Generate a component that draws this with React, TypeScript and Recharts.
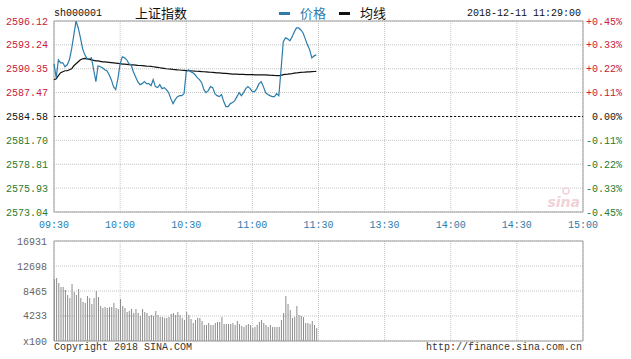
import { LineChart, Line, XAxis, YAxis, CartesianGrid, ReferenceLine, ReferenceArea, ComposedChart, Bar } from 'recharts';

// minute index 0..240 (09:30-11:30, 13:00-15:00)
const timeTicks = [0, 30, 60, 90, 120, 150, 180, 210, 240];
const timeLabels = ['09:30', '10:00', '10:30', '11:00', '11:30', '13:30', '14:00', '14:30', '15:00'];

const priceTicks = [2573.04, 2575.93, 2578.81, 2581.7, 2584.58, 2587.47, 2590.35, 2593.24, 2596.12];
const pctLabels = ['-0.45%', '-0.33%', '-0.22%', '-0.11%', '0.00%', '+0.11%', '+0.22%', '+0.33%', '+0.45%'];
const prevClose = 2584.58;

const volTicks = [0, 4233, 8465, 12698, 16931];
const volLabels = ['x100', '4233', '8465', '12698', '16931'];

const price = [
  2590.95, 2589.27, 2591.43, 2591.07, 2591.07, 2590.59, 2590.83, 2591.43, 2592.75, 2594.44,
  2596.12, 2595.28, 2594.08, 2592.75, 2592.03, 2591.55, 2591.55, 2591.67, 2590.23, 2588.79,
  2590.71, 2590.59, 2590.47, 2590.23, 2590.11, 2589.63, 2589.03, 2588.19, 2587.83, 2589.15,
  2590.95, 2591.79, 2591.67, 2591.43, 2590.95, 2590.83, 2589.99, 2589.39, 2588.79, 2588.43,
  2588.55, 2588.79, 2588.55, 2588.55, 2588.31, 2589.03, 2588.19, 2588.07, 2588.43, 2587.95,
  2588.07, 2587.83, 2587.47, 2586.74, 2586.14, 2586.62, 2586.98, 2587.1, 2587.1, 2587.35,
  2589.99, 2590.23, 2589.99, 2589.87, 2589.63, 2589.27, 2589.03, 2588.67, 2587.83, 2587.47,
  2587.71, 2588.19, 2588.07, 2587.35, 2587.1, 2586.98, 2587.23, 2586.38, 2585.78, 2585.78,
  2586.14, 2586.26, 2586.5, 2586.98, 2587.47, 2587.1, 2587.47, 2587.95, 2588.19, 2587.95,
  2587.59, 2587.59, 2587.95, 2588.55, 2588.79, 2588.19, 2587.47, 2587.23, 2587.1, 2586.98,
  2586.98, 2587.35, 2587.1, 2590.23, 2593.6, 2594.08, 2593.96, 2593.72, 2594.2, 2594.8,
  2595.28, 2595.28, 2595.04, 2594.68, 2593.96, 2593.24, 2592.63, 2591.67, 2591.91, 2592.03,
];

const avgPrice = [
  2589.03, 2589.15, 2589.51, 2589.87, 2589.99, 2590.11, 2590.11, 2590.23, 2590.35, 2590.71,
  2590.95, 2591.19, 2591.43, 2591.55, 2591.61, 2591.55, 2591.49, 2591.43, 2591.37, 2591.31,
  2591.31, 2591.25, 2591.19, 2591.17, 2591.14, 2591.11, 2591.08, 2591.05, 2591.02, 2590.99,
  2590.96, 2590.92, 2590.9, 2590.88, 2590.85, 2590.83, 2590.81, 2590.79, 2590.76, 2590.74,
  2590.72, 2590.7, 2590.67, 2590.65, 2590.63, 2590.59, 2590.55, 2590.51, 2590.47, 2590.43,
  2590.39, 2590.35, 2590.32, 2590.3, 2590.27, 2590.25, 2590.22, 2590.2, 2590.17, 2590.15,
  2590.13, 2590.12, 2590.1, 2590.08, 2590.06, 2590.05, 2590.03, 2590.01, 2589.99, 2589.97,
  2589.95, 2589.93, 2589.91, 2589.89, 2589.86, 2589.84, 2589.82, 2589.8, 2589.78, 2589.76,
  2589.74, 2589.71, 2589.7, 2589.69, 2589.68, 2589.67, 2589.66, 2589.65, 2589.64, 2589.63,
  2589.63, 2589.62, 2589.62, 2589.61, 2589.61, 2589.6, 2589.6, 2589.59, 2589.57, 2589.56,
  2589.54, 2589.53, 2589.51, 2589.55, 2589.63, 2589.67, 2589.7, 2589.74, 2589.77, 2589.81,
  2589.84, 2589.88, 2589.91, 2589.93, 2589.95, 2589.97, 2589.98, 2590.0, 2590.02, 2590.03,
];

const volume = [
  10497, 10667, 9820, 9143, 9143, 8635, 7788, 7280, 9651, 8296,
  7788, 8804, 7280, 6603, 6434, 7619, 7280, 6264, 7280, 8466,
  7450, 5926, 5587, 5757, 5587, 5757, 5757, 6434, 5587, 5418,
  7111, 5926, 5587, 4910, 5079, 5418, 4741, 5418, 4741, 4233,
  5418, 4910, 4741, 4233, 4402, 4233, 5079, 4402, 4063, 4063,
  3894, 3894, 4063, 4571, 4741, 4402, 4910, 4402, 3894, 3556,
  4910, 4402, 3725, 3048, 3556, 3894, 3894, 3386, 2709, 2709,
  3048, 2709, 2709, 3048, 3217, 3217, 4063, 2878, 2878, 2878,
  2878, 3048, 2709, 3386, 2878, 2540, 2370, 2709, 2878, 2709,
  2201, 2370, 2709, 3217, 3556, 3048, 2709, 2370, 2709, 2370,
  2370, 2370, 2370, 3556, 4741, 7619, 6264, 5249, 3894, 4063,
  5926, 4402, 4233, 4063, 3048, 3048, 2878, 3386, 2709, 2201,
];

const priceData = price.map((p, i) => ({ t: i, price: p, avg: avgPrice[i] }));
const volData = volume.map((v, i) => ({ t: i, vol: v }));

const MONO = '"Liberation Mono", "DejaVu Sans Mono", monospace';
const CJK = '"Noto Sans CJK SC", sans-serif';
const GRID = '#c4c4c4';
const BORDER = '#a0a0a0';
const BLUE = '#2b7cab';
const RED = '#c8203c';
const GREEN = '#2b7a2b';

function LeftPriceTick(props: any) {
  const { y, index } = props;
  const color = index < 4 ? GREEN : index === 4 ? '#111' : RED;
  return (
    <text x={48} y={y} dy="0.35em" textAnchor="end" fontFamily={MONO} fontSize={10} fill={color}>
      {priceTicks[index].toFixed(2)}
    </text>
  );
}

function RightPctTick(props: any) {
  const { y, index } = props;
  const color = index < 4 ? GREEN : index === 4 ? '#111' : RED;
  return (
    <text x={622} y={y} dy="0.35em" textAnchor="end" fontFamily={MONO} fontSize={10} fill={color}>
      {pctLabels[index]}
    </text>
  );
}

function TimeTick(props: any) {
  const { x, index } = props;
  return (
    <text x={x} y={224} dy="0.35em" textAnchor="middle" fontFamily={MONO} fontSize={10} fill={BLUE}>
      {timeLabels[index]}
    </text>
  );
}

function VolTick(props: any) {
  const { y, index } = props;
  return (
    <text x={47} y={y} dy="0.35em" textAnchor="end" fontFamily={MONO} fontSize={10} fill="#666">
      {volLabels[index]}
    </text>
  );
}

const abs = (left: number, top: number): React.CSSProperties => ({
  position: 'absolute',
  left,
  top,
  whiteSpace: 'nowrap',
});

export default function App() {
  return (
    <div style={{ position: 'absolute', left: 0, top: 0, width: 631, height: 359, background: '#fff', overflow: 'hidden' }}>
      {/* header */}
      <div style={{ ...abs(54, 8), fontFamily: MONO, fontSize: 10, lineHeight: '12px', color: '#111' }}>sh000001</div>
      <div style={{ ...abs(135, 5), fontFamily: CJK, fontSize: 13, lineHeight: '16px', color: '#111' }}>上证指数</div>
      <div style={{ ...abs(279, 12), width: 11, height: 3, background: BLUE }} />
      <div style={{ ...abs(300, 5), fontFamily: CJK, fontSize: 13, lineHeight: '16px', color: BLUE }}>价格</div>
      <div style={{ ...abs(339, 12), width: 11, height: 3, background: '#111' }} />
      <div style={{ ...abs(360, 5), fontFamily: CJK, fontSize: 13, lineHeight: '16px', color: '#111' }}>均线</div>
      <div style={{ ...abs(467, 8), fontFamily: MONO, fontSize: 10, lineHeight: '12px', color: '#111' }}>2018-12-11 11:29:00</div>

      {/* price chart */}
      <div style={abs(0, 0)}>
        <LineChart width={631} height={235} data={priceData} margin={{ top: 21, right: 0, bottom: 0, left: 0 }}>
          <CartesianGrid stroke={GRID} strokeDasharray="1 1" />
          <XAxis
            dataKey="t"
            type="number"
            domain={[0, 240]}
            ticks={timeTicks}
            height={23}
            tickLine={false}
            axisLine={false}
            tick={<TimeTick />}
            interval={0}
          />
          <YAxis
            domain={[priceTicks[0], priceTicks[8]]}
            ticks={priceTicks}
            width={54}
            tickLine={false}
            axisLine={false}
            tick={<LeftPriceTick />}
            interval={0}
            allowDataOverflow
          />
          <YAxis
            yAxisId="r"
            orientation="right"
            domain={[priceTicks[0], priceTicks[8]]}
            ticks={priceTicks}
            width={48}
            tickLine={false}
            axisLine={false}
            tick={<RightPctTick />}
            interval={0}
            allowDataOverflow
          />
          <ReferenceLine y={prevClose} stroke="#111" strokeDasharray="2 2" />
          <ReferenceArea x1={0} x2={240} y1={priceTicks[0]} y2={priceTicks[8]} fill="none" stroke={BORDER} strokeWidth={1} />
          <circle cx={566} cy={191} r={3} fill="none" stroke="#f1d3d8" strokeWidth={1.5} />
          <text x={580} y={207} textAnchor="end" fontFamily="Verdana, 'DejaVu Sans', sans-serif" fontStyle="italic" fontWeight="bold" fontSize={14} fill="#f0d2d7">
            sina
          </text>
          <Line type="linear" dataKey="avg" stroke="#111" strokeWidth={1.2} dot={false} isAnimationActive={false} />
          <Line type="linear" dataKey="price" stroke={BLUE} strokeWidth={1.2} dot={false} isAnimationActive={false} />
        </LineChart>
      </div>

      {/* volume chart */}
      <div style={abs(0, 230)}>
        <ComposedChart width={631} height={125} data={volData} margin={{ top: 11, right: 48, bottom: 14, left: 0 }}>
          <CartesianGrid stroke={GRID} strokeDasharray="1 1" />
          <XAxis dataKey="t" type="number" domain={[0, 240]} ticks={timeTicks} hide />
          <YAxis
            domain={[0, 16931]}
            ticks={volTicks}
            width={54}
            tickLine={false}
            axisLine={false}
            tick={<VolTick />}
            interval={0}
          />
          <ReferenceArea x1={0} x2={240} y1={0} y2={16931} fill="none" stroke={BORDER} strokeWidth={1} />
          <Bar dataKey="vol" fill="#8c8c8c" barSize={1} isAnimationActive={false} />
        </ComposedChart>
      </div>

      {/* footer */}
      <div style={{ ...abs(54, 342), fontFamily: MONO, fontSize: 10, lineHeight: '12px', color: '#333' }}>Copyright 2018 SINA.COM</div>
      <div style={{ ...abs(425, 342), width: 157, textAlign: 'right', fontFamily: MONO, fontSize: 10, lineHeight: '12px', color: '#333' }}>
        http://finance.sina.com.cn
      </div>
    </div>
  );
}
